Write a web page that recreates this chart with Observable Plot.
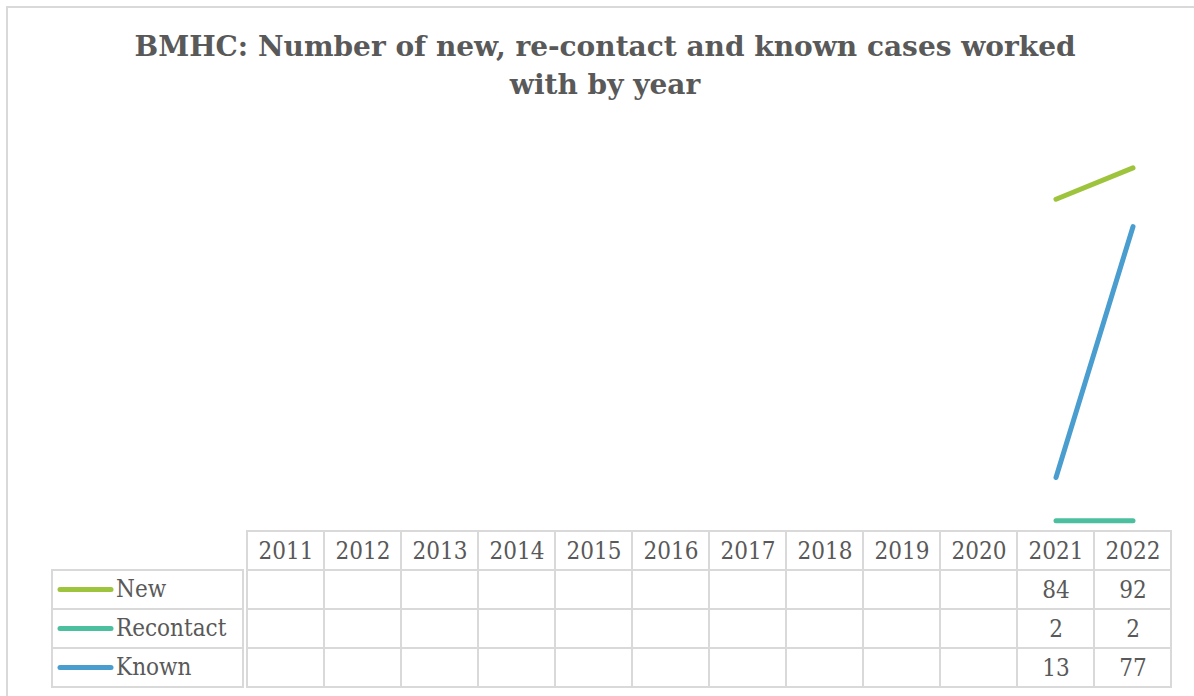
<!DOCTYPE html>
<html>
<head>
<meta charset="utf-8">
<script src="https://cdn.jsdelivr.net/npm/d3@7"></script>
<script src="https://cdn.jsdelivr.net/npm/@observablehq/plot@0.6"></script>
<style>
  html, body { margin: 0; padding: 0; background: #fff; overflow: hidden; }
  #wrap { position: relative; width: 1194px; height: 696px; overflow: hidden; }
  #frame { position: absolute; left: 6px; top: 6px; width: 1210px; height: 710px; border: 2px solid #d9d9d9; box-sizing: border-box; }
  #title { position: absolute; left: 8px; top: 28px; width: 1194px; text-align: center;
           font-family: "DejaVu Serif", serif; font-weight: bold; font-size: 28px; line-height: 38px; color: #595959; }
  #chart { position: absolute; left: 0; top: 110px; }
  #table { position: absolute; left: 0; top: 520px; }
</style>
</head>
<body>
<div id="wrap">
  <div id="frame"></div>
  <div id="title">BMHC: Number of new, re-contact and known cases worked<br>with by year</div>
  <div id="chart"></div>
  <div id="table"></div>
</div>
<script>
const years = ["2011","2012","2013","2014","2015","2016","2017","2018","2019","2020","2021","2022"];
const seriesNames = ["New", "Recontact", "Known"];
const seriesColors = ["#9dc43c", "#4cbf9f", "#4a9dcf"];
const newValues =       [null,null,null,null,null,null,null,null,null,null,84,92];
const recontactValues = [null,null,null,null,null,null,null,null,null,null,2,2];
const knownValues =     [null,null,null,null,null,null,null,null,null,null,13,77];

const valuesBySeries = {New: newValues, Recontact: recontactValues, Known: knownValues};
const rows = [];
for (const s of seriesNames) {
  years.forEach((yr, i) => rows.push({series: s, year: yr, value: valuesBySeries[s][i]}));
}

const textFont = "'DejaVu Serif Condensed', 'DejaVu Serif', serif";
const gray = "#595959";
const gridColor = "#d9d9d9";
const fs = 24;

// Line chart
const chart = Plot.plot({
  width: 1194,
  height: 418,
  marginTop: 26,
  marginBottom: 0,
  marginLeft: 243,
  marginRight: 20,
  x: {type: "band", domain: years, padding: 0, axis: null},
  y: {domain: [0, 100], axis: null},
  color: {domain: seriesNames, range: seriesColors},
  marks: [
    Plot.line(rows, {x: "year", y: "value", z: "series", stroke: "series",
      strokeWidth: 5, strokeLinecap: "round", strokeLinejoin: "round"})
  ]
});
document.getElementById("chart").appendChild(chart);

// Data table
const headerKey = "__header__";
const headerRows = years.map(yr => ({year: yr, series: headerKey}));
const table = Plot.plot({
  width: 1194,
  height: 176,
  marginTop: 9,
  marginBottom: 8,
  marginLeft: 243,
  marginRight: 20,
  style: {fontFamily: textFont, fontSize: fs + "px", color: gray},
  x: {type: "band", domain: years, padding: 0, axis: null},
  y: {type: "band", domain: [headerKey, ...seriesNames], padding: 0, axis: null},
  marks: [
    Plot.cell(headerRows, {x: "year", y: "series", fill: "white", stroke: gridColor, strokeWidth: 2}),
    Plot.cell(rows, {x: "year", y: "series", fill: "white", stroke: gridColor, strokeWidth: 2}),
    Plot.text(headerRows, {x: "year", y: "series", text: "year", fill: gray, fontSize: fs}),
    Plot.text(rows.filter(d => d.value != null), {x: "year", y: "series", text: d => String(d.value), fill: gray, fontSize: fs}),
    // legend column drawn with the table's y scale
    (index, scales) => {
      const g = d3.create("svg:g");
      const bw = scales.y.bandwidth();
      seriesNames.forEach((s, i) => {
        const y0 = scales.y(s);
        g.append("rect").attr("x", 52).attr("y", y0).attr("width", 191).attr("height", bw)
          .attr("fill", "white").attr("stroke", gridColor).attr("stroke-width", 2);
        g.append("line").attr("x1", 60).attr("x2", 111).attr("y1", y0 + bw / 2).attr("y2", y0 + bw / 2)
          .attr("stroke", seriesColors[i]).attr("stroke-width", 5).attr("stroke-linecap", "round");
        g.append("text").attr("x", 116).attr("y", y0 + bw / 2).attr("dy", "0.32em")
          .attr("text-anchor", "start")
          .attr("fill", gray).attr("font-size", fs).attr("font-family", textFont).text(s);
      });
      return g.node();
    }
  ]
});
document.getElementById("table").appendChild(table);
</script>
</body>
</html>
